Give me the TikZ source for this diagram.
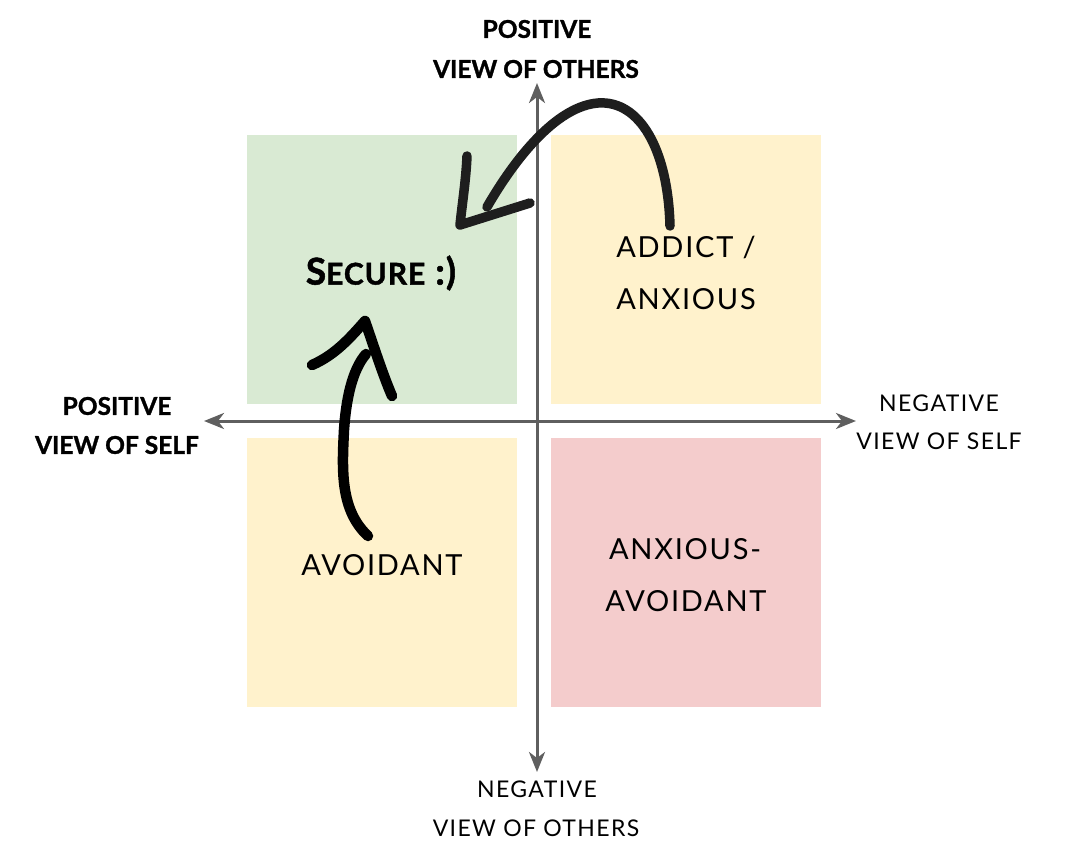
\documentclass[tikz,border=0pt]{standalone}
\usepackage{fontspec}
\setmainfont{Lato}
\newfontfamily\latoreg[LetterSpace=6]{Lato}
\newfontfamily\latobold[FakeBold=1.2]{Lato Bold}
\newfontfamily\latosecure[FakeBold=1.4,LetterSpace=3]{Lato Bold}
\usetikzlibrary{arrows.meta}
\definecolor{qgreen}{HTML}{D9EAD3}
\definecolor{qyellow}{HTML}{FFF2CC}
\definecolor{qred}{HTML}{F4CCCC}
\definecolor{axisgray}{HTML}{5F5F5F}
\definecolor{penink}{HTML}{1E1E1E}
\tikzset{
  axis/.style={draw=axisgray, line width=3pt, {Stealth[length=20pt,width=16pt,inset=6pt]}-{Stealth[length=20pt,width=16pt,inset=6pt]}},
  boldlab/.style={font=\latobold\fontsize{24.5}{28}\selectfont, align=center, inner sep=0pt},
  reglab/.style={font=\latoreg\fontsize{23}{27}\selectfont, align=center, inner sep=0pt},
  quadlab/.style={font=\latoreg\fontsize{29}{34}\selectfont, align=center, inner sep=0pt},
  pen/.style={draw=penink, line width=9.5pt, line cap=round, line join=round},
  penb/.style={draw=black, line width=10.5pt, line cap=round, line join=round},
}
\begin{document}
\begin{tikzpicture}[x=1pt,y=-1pt]
\useasboundingbox (0,0) rectangle (1088,856);
% quadrants
\fill[qgreen]  (247,135) rectangle (517,404);
\fill[qyellow] (551,135) rectangle (821,404);
\fill[qyellow] (247,438) rectangle (517,707);
\fill[qred]    (551,438) rectangle (821,707);
% axes
\coordinate (top) at (537,83);
\coordinate (bottom) at (537,772);
\coordinate (left) at (204,421);
\coordinate (right) at (856,421);
\draw[axis] (bottom) -- (top);
\draw[axis] (left) -- (right);
% axis labels
\node[boldlab] (po1) at (537,29) {POSITIVE};
\node[boldlab] (po2) at (536,69) {VIEW OF OTHERS};
\node[boldlab] (ps1) at (117,406) {POSITIVE};
\node[boldlab] (ps2) at (117,445) {VIEW OF SELF};
\node[reglab] (ns1) at (939,403) {NEGATIVE};
\node[reglab] (ns2) at (939,441) {VIEW OF SELF};
\node[reglab] (no1) at (537,789) {NEGATIVE};
\node[reglab] (no2) at (536,828) {VIEW OF OTHERS};
% quadrant labels
\node[font=\latosecure\fontsize{37}{42}\selectfont, inner sep=0pt] (secure) at (381,273)
  {S{\fontsize{30}{34}\selectfont ECURE} :)};
\node[quadlab] (add1) at (686,247) {ADDICT /};
\node[quadlab] (add2) at (686,299) {ANXIOUS};
\node[quadlab] (avo) at (382,565) {AVOIDANT};
\node[quadlab] (aa1) at (685,549) {ANXIOUS-};
\node[quadlab] (aa2) at (686,601) {AVOIDANT};
% hand-drawn arrow from anxious to secure
\coordinate (a1tail) at (670,226);
\coordinate (a1end) at (487,207);
\coordinate (a1tip) at (460,225);
\draw[pen] (a1tail) .. controls (668,150) and (640,100) .. (598,103)
  .. controls (560,106) and (520,150) .. (a1end);
\draw[pen] (467,156) .. controls (466,180) and (462,205) .. (a1tip) -- (530,203);
% hand-drawn arrow from avoidant to secure
\coordinate (a2tail) at (368,536);
\coordinate (a2top) at (366,354);
\coordinate (a2tip) at (365,321);
\draw[penb] (a2tail) .. controls (340,510) and (342,470) .. (344,430)
  .. controls (346,400) and (352,370) .. (a2top);
\draw[penb] (312,365) .. controls (335,355) and (350,338) .. (a2tip)
  .. controls (375,350) and (383,375) .. (392,396);
\end{tikzpicture}
\end{document}
